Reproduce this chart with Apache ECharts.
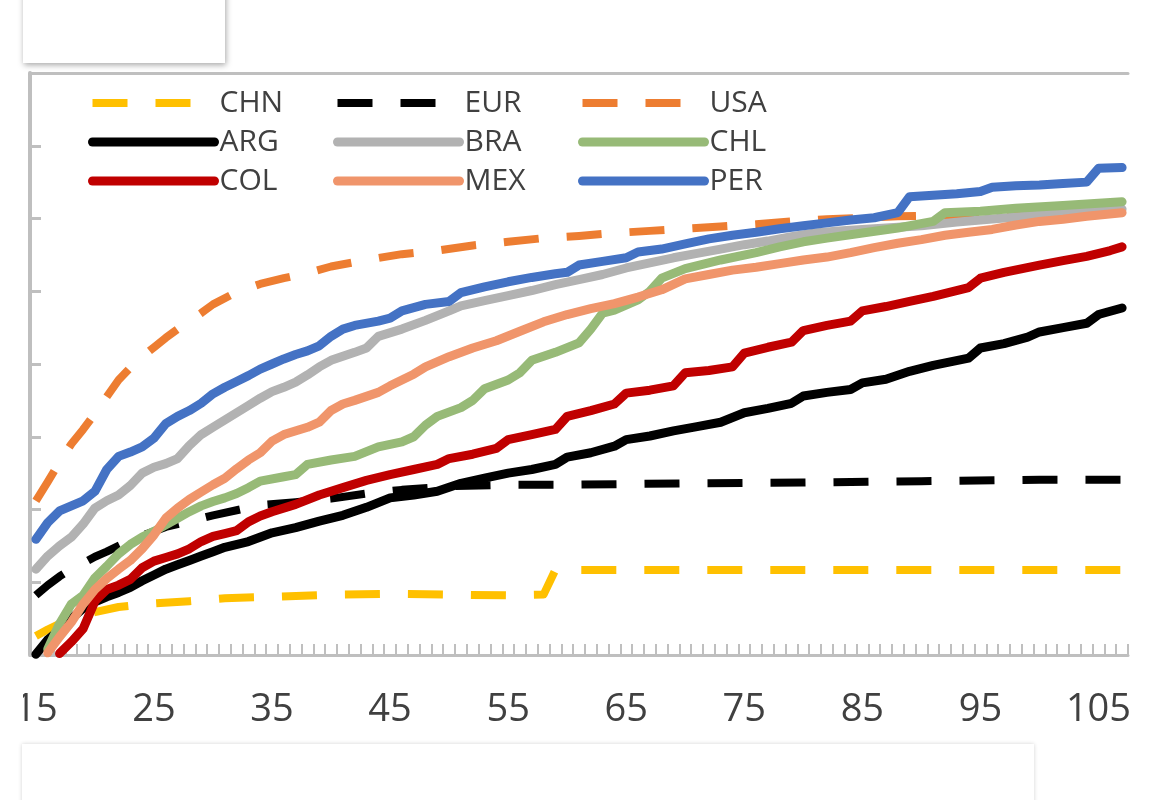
<!DOCTYPE html>
<html>
<head>
<meta charset="utf-8">
<script src="https://cdn.jsdelivr.net/npm/echarts@6/dist/echarts.min.js"></script>
<style>
html,body{margin:0;padding:0;background:#fff;}
#chart{width:1151px;height:800px;}
</style>
</head>
<body>
<div id="chart"></div>
<script>
// Category axis (age-like index) and tick labels shown every 10
const categories = ['15','16','17','18','19','20','21','22','23','24','25','26','27','28','29','30','31','32','33','34','35','36','37','38','39','40','41','42','43','44','45','46','47','48','49','50','51','52','53','54','55','56','57','58','59','60','61','62','63','64','65','66','67','68','69','70','71','72','73','74','75','76','77','78','79','80','81','82','83','84','85','86','87','88','89','90','91','92','93','94','95','96','97','98','99','100','101','102','103','104','105','106','107'];

// Series values: [x, value]
const CHN = [[15,2.6],[16,3.5],[17,4.3],[18,5.0],[19,5.5],[20,5.9],[22,6.6],[25,7.1],[28,7.4],[31,7.8],[35,8.0],[40,8.3],[45,8.4],[50,8.3],[55,8.2],[58,8.3],[59,11.7],[65,11.7],[75,11.7],[85,11.7],[95,11.7],[107,11.7]];
const EUR = [[15,8.2],[16,9.6],[17,10.8],[18,11.8],[19,12.6],[20,13.5],[21,14.2],[22,15.0],[23,15.8],[24,16.4],[26,17.6],[28,18.4],[30,19.2],[32,19.9],[34,20.6],[37,21.0],[40,21.5],[43,22.2],[46,22.7],[50,23.2],[55,23.4],[60,23.4],[70,23.6],[80,23.7],[90,23.9],[100,24.1],[107,24.1]];
const USA = [[15,21.2],[16,23.8],[17,26.5],[18,29.0],[19,31.0],[20,33.2],[21,35.5],[22,37.8],[23,39.5],[24,41.0],[25,42.3],[26,43.6],[27,44.8],[28,45.9],[29,47.0],[30,48.2],[32,49.9],[34,51.0],[36,51.8],[38,52.5],[40,53.4],[43,54.3],[46,55.1],[49,55.6],[52,56.3],[55,56.8],[58,57.3],[61,57.6],[64,58.0],[67,58.3],[70,58.6],[73,58.9],[76,59.2],[79,59.6],[82,59.9],[85,60.1],[88,60.3],[91,60.4],[95,60.6],[100,61.0],[107,61.5]];
const ARG = [[15,0.1],[16,2.1],[17,3.4],[18,5.0],[19,6.4],[20,7.3],[21,8.0],[22,8.6],[23,9.3],[24,10.2],[25,11.0],[26,11.8],[27,12.4],[28,13.0],[29,13.6],[30,14.2],[31,14.8],[33,15.6],[35,16.8],[37,17.5],[39,18.4],[41,19.2],[43,20.3],[45,21.6],[47,22.0],[49,22.5],[51,23.6],[53,24.3],[55,25.0],[57,25.5],[59,26.2],[60,27.2],[62,27.8],[64,28.7],[65,29.6],[67,30.1],[69,30.8],[71,31.4],[73,32.0],[75,33.3],[77,33.9],[79,34.6],[80,35.6],[82,36.1],[84,36.5],[85,37.4],[87,37.9],[89,39.0],[91,39.8],[94,40.8],[95,42.2],[97,42.8],[99,43.7],[100,44.4],[102,45.0],[104,45.6],[105,46.8],[107,47.7]];
const BRA = [[15,11.8],[16,13.6],[17,15.0],[18,16.2],[19,18.0],[20,20.2],[21,21.2],[22,22.0],[23,23.3],[24,25.0],[25,25.8],[26,26.3],[27,27.0],[28,28.8],[29,30.3],[30,31.3],[31,32.3],[32,33.3],[33,34.3],[34,35.3],[35,36.2],[36,36.8],[37,37.5],[38,38.5],[39,39.6],[40,40.5],[42,41.6],[43,42.2],[44,43.8],[46,44.8],[48,46.0],[50,47.3],[51,48.0],[53,48.7],[55,49.4],[57,50.1],[59,50.9],[61,51.6],[63,52.3],[65,53.2],[67,53.9],[69,54.6],[71,55.2],[73,55.8],[75,56.4],[77,56.9],[79,57.5],[81,58.0],[83,58.3],[85,58.5],[87,58.7],[90,59.0],[93,59.5],[95,59.8],[98,60.2],[100,60.5],[103,60.9],[107,61.3]];
const CHL = [[16,0.8],[17,4.3],[18,7.0],[19,8.2],[20,10.6],[21,12.2],[22,13.9],[23,15.2],[24,16.2],[25,17.0],[26,17.9],[27,18.8],[28,19.7],[29,20.5],[30,21.1],[31,21.6],[32,22.2],[33,23.0],[34,23.9],[36,24.5],[37,24.8],[38,26.2],[40,26.8],[42,27.3],[44,28.6],[46,29.3],[47,30.0],[48,31.6],[49,32.8],[51,34.0],[52,35.0],[53,36.6],[55,37.8],[56,38.8],[57,40.5],[59,41.6],[61,42.9],[62,44.8],[63,47.0],[64,47.4],[66,48.8],[67,50.0],[68,51.8],[70,53.1],[73,54.3],[76,55.3],[78,56.1],[80,56.8],[82,57.3],[85,58.0],[88,58.7],[91,59.6],[92,60.8],[95,61.0],[98,61.4],[102,61.8],[107,62.3]];
const COL = [[17,0.2],[18,1.8],[19,3.6],[20,7.4],[21,9.0],[22,9.6],[23,10.4],[24,12.0],[25,12.9],[26,13.4],[27,13.9],[28,14.6],[29,15.6],[30,16.3],[31,16.7],[32,17.1],[33,18.3],[34,19.1],[35,19.7],[37,20.7],[39,22.0],[41,23.0],[43,24.0],[45,24.8],[47,25.5],[49,26.2],[50,27.0],[52,27.6],[54,28.4],[55,29.6],[57,30.3],[59,31.0],[60,32.8],[62,33.6],[64,34.5],[65,36.0],[67,36.4],[69,37.0],[70,38.8],[72,39.1],[74,39.6],[75,41.5],[77,42.3],[79,43.0],[80,44.6],[82,45.3],[84,45.9],[85,47.3],[87,47.9],[89,48.6],[91,49.3],[94,50.5],[95,51.8],[97,52.6],[100,53.6],[102,54.2],[104,54.8],[106,55.6],[107,56.1]];
const MEX = [[16,0.3],[17,2.5],[18,4.5],[19,7.0],[20,9.0],[21,10.5],[22,11.8],[23,13.0],[24,14.6],[25,16.5],[26,18.8],[27,20.2],[28,21.4],[29,22.4],[30,23.4],[31,24.3],[32,25.6],[33,26.8],[34,27.8],[35,29.4],[36,30.3],[38,31.3],[39,32.0],[40,33.6],[41,34.5],[42,35.0],[44,36.1],[45,37.0],[47,38.6],[48,39.6],[50,41.0],[52,42.2],[54,43.2],[56,44.5],[58,45.8],[60,46.8],[62,47.6],[64,48.3],[66,49.2],[68,50.2],[70,51.7],[72,52.3],[74,52.9],[76,53.3],[78,53.8],[80,54.3],[82,54.7],[84,55.3],[86,56.0],[88,56.6],[90,57.1],[92,57.7],[94,58.1],[96,58.5],[98,59.1],[100,59.6],[102,59.9],[104,60.3],[107,60.8]];
const PER = [[15,15.9],[16,18.2],[17,19.8],[18,20.5],[19,21.2],[20,22.5],[21,25.5],[22,27.3],[23,27.9],[24,28.6],[25,29.8],[26,31.8],[27,32.8],[28,33.6],[29,34.6],[30,35.9],[31,36.8],[32,37.6],[33,38.4],[34,39.3],[35,40.0],[36,40.7],[37,41.3],[38,41.8],[39,42.5],[40,43.8],[41,44.8],[42,45.3],[44,45.9],[45,46.3],[46,47.3],[48,48.2],[50,48.6],[51,49.8],[53,50.6],[55,51.3],[57,51.9],[59,52.4],[60,52.6],[61,53.6],[63,54.1],[65,54.6],[66,55.4],[68,55.8],[70,56.5],[72,57.2],[74,57.7],[76,58.1],[78,58.6],[80,59.0],[82,59.4],[84,59.8],[86,60.1],[88,60.8],[89,63.0],[91,63.2],[93,63.4],[95,63.7],[96,64.3],[98,64.5],[100,64.6],[102,64.8],[104,65.0],[105,66.9],[107,67.0]];

const FONT = '"Open Sans", "Noto Sans", sans-serif';
const TXT = '#404040';
const AXIS = '#BFBFBF';
const DASH = [35, 28];

function solid(name, data, color) {
  return {name, type: 'line', xAxisIndex: 1, data, symbol: 'none', showSymbol: false,
    lineStyle: {color, width: 9, cap: 'round', join: 'round'}, itemStyle: {color}};
}
function dashed(name, data, color) {
  return {name, type: 'line', xAxisIndex: 1, data, symbol: 'none', showSymbol: false,
    lineStyle: {color, width: 8, type: DASH, cap: 'butt', join: 'round'}, itemStyle: {color}};
}

const legendBase = {
  orient: 'vertical', top: 88, padding: 0, itemGap: 9, itemWidth: 122, itemHeight: 10,
  itemStyle: {opacity: 0},
  lineStyle: {width: 9, cap: 'round'},
  textStyle: {fontSize: 30, color: TXT, fontFamily: FONT},
  selectedMode: false
};
const dashItem = (name) => ({name, lineStyle: {width: 8, cap: 'butt'}});

const chart = echarts.init(document.getElementById('chart'), null, {renderer: 'canvas'});
chart.setOption({
  animation: false,
  backgroundColor: '#ffffff',
  grid: {left: 30, right: 23, top: 73, bottom: 145, containLabel: false},
  legend: [
    Object.assign({}, legendBase, {left: 88, data: [dashItem('CHN'), 'ARG', 'COL']}),
    Object.assign({}, legendBase, {left: 333, data: [dashItem('EUR'), 'BRA', 'MEX']}),
    Object.assign({}, legendBase, {left: 578, data: [dashItem('USA'), 'CHL', 'PER']})
  ],
  xAxis: [
    {type: 'category', position: 'bottom', data: categories, boundaryGap: true,
      axisLine: {lineStyle: {color: AXIS, width: 3}},
      axisTick: {show: true, inside: true, interval: 0, length: 11, lineStyle: {color: AXIS, width: 2}},
      axisLabel: {interval: 9, margin: 36, fontSize: 38, color: TXT, fontFamily: FONT},
      splitLine: {show: false}},
    {type: 'value', position: 'bottom', min: 14.5, max: 107.5, show: false},
    {type: 'category', position: 'top', data: categories, boundaryGap: true,
      axisLine: {show: true, lineStyle: {color: AXIS, width: 3}},
      axisTick: {show: false}, axisLabel: {show: false}, splitLine: {show: false}}
  ],
  yAxis: {type: 'value', min: 0, max: 80, interval: 10,
    axisLine: {show: true, lineStyle: {color: AXIS, width: 4}},
    axisTick: {show: true, inside: true, length: 11, lineStyle: {color: AXIS, width: 3}},
    axisLabel: {show: false}, splitLine: {show: false}},
  series: [
    dashed('CHN', CHN, '#FFC000'),
    dashed('EUR', EUR, '#000000'),
    dashed('USA', USA, '#ED7D31'),
    solid('ARG', ARG, '#000000'),
    solid('BRA', BRA, '#B2B2B2'),
    solid('CHL', CHL, '#97BA77'),
    solid('COL', COL, '#C00000'),
    solid('MEX', MEX, '#F0956B'),
    solid('PER', PER, '#4472C4')
  ],
  graphic: [
    {type: 'rect', z: 100, zlevel: 1, shape: {x: 0, y: 0, width: 23, height: 800}, style: {fill: '#ffffff'}},
    {type: 'rect', z: 101, zlevel: 1, shape: {x: 23, y: -20, width: 202, height: 83},
      style: {fill: '#ffffff', shadowBlur: 6, shadowColor: 'rgba(0,0,0,0.35)', shadowOffsetX: 1, shadowOffsetY: 2}},
    {type: 'rect', z: 101, zlevel: 1, shape: {x: 22, y: 744, width: 1012, height: 80},
      style: {fill: '#ffffff', shadowBlur: 4, shadowColor: 'rgba(0,0,0,0.18)', shadowOffsetX: 0, shadowOffsetY: 0}}
  ]
});
</script>
</body>
</html>
